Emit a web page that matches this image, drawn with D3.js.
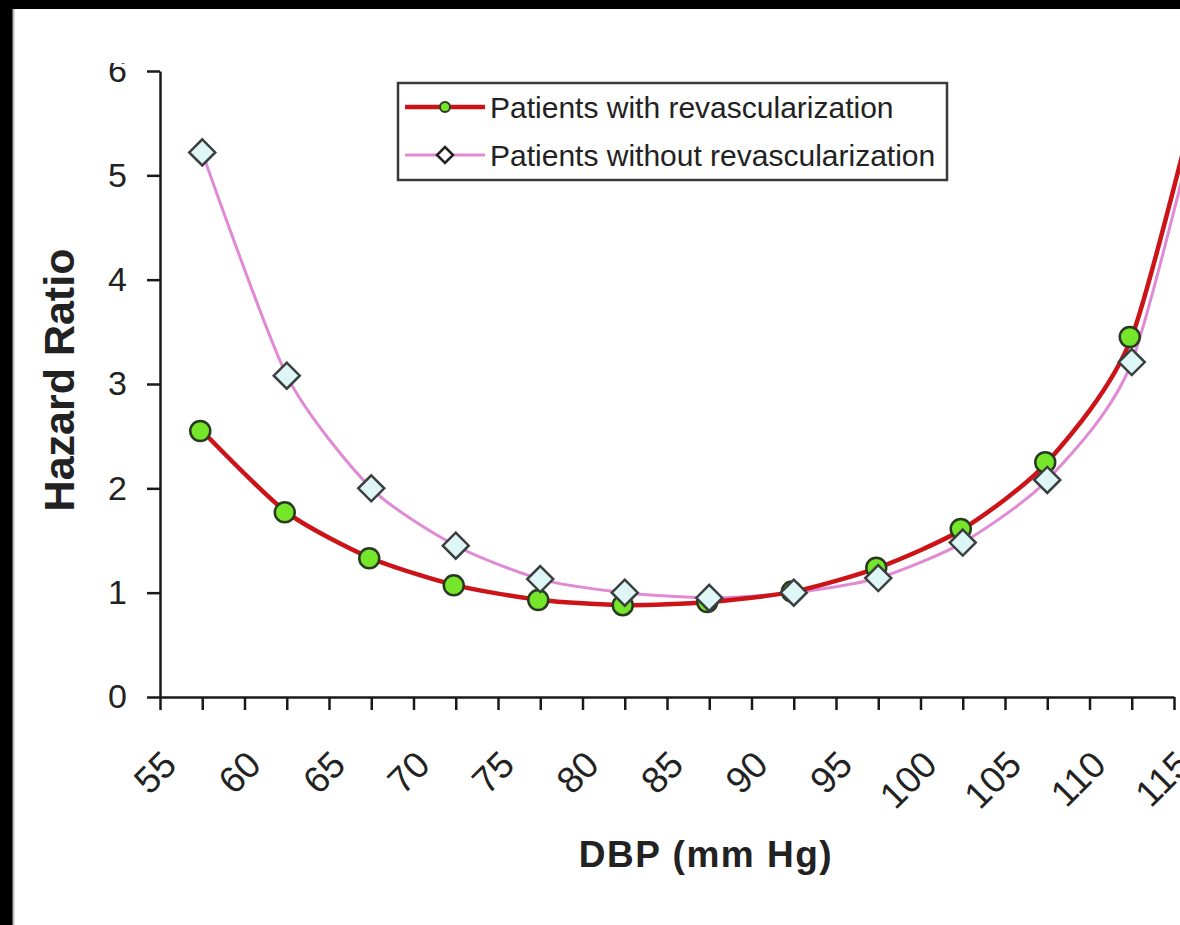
<!DOCTYPE html>
<html>
<head>
<meta charset="utf-8">
<script src="https://cdn.jsdelivr.net/npm/d3@7"></script>
<style>
  html, body { margin: 0; padding: 0; background: #000; }
  svg { display: block; }
</style>
</head>
<body>
<div id="chart"></div>
<script>
// DBP category midpoints (mm Hg), last one sits past the right edge
var dbp = [57.5, 62.5, 67.5, 72.5, 77.5, 82.5, 87.5, 92.5, 97.5, 102.5, 107.5, 112.5, 117.5];
var withRevasc = [2.55, 1.77, 1.33, 1.07, 0.93, 0.88, 0.91, 1.01, 1.24, 1.61, 2.25, 3.45, 6.5];
var withoutRevasc = [5.22, 3.08, 2.0, 1.45, 1.13, 1.0, 0.95, 1.0, 1.14, 1.48, 2.08, 3.21, 6.3];
var xTickLabels = [55, 60, 65, 70, 75, 80, 85, 90, 95, 100, 105, 110, 115];
var yTickLabels = [0, 1, 2, 3, 4, 5, 6];
var seriesNames = ["Patients with revascularization", "Patients without revascularization"];

var width = 1180;
var height = 925;
var margin = {left: 160, right: 6, top: 71, bottom: 228};

var svg = d3.select("#chart").append("svg")
	.attr("width", width)
	.attr("height", height)
	.style("font-family", "'Liberation Sans', Arial, sans-serif");

svg.append("rect").attr("width", width).attr("height", height).attr("fill", "#000");
svg.append("rect")
	.attr("x", 13).attr("y", 9)
	.attr("width", width - 13).attr("height", height - 9)
	.attr("fill", "#fff");
svg.append("line")
	.attr("x1", 13.5).attr("x2", 13.5).attr("y1", 9).attr("y2", height)
	.attr("stroke", "#bbb").attr("stroke-width", 2);

var x_scale = d3.scaleLinear()
	.domain([55, 115])
	.range([margin.left, width - margin.right]);

var y_scale = d3.scaleLinear()
	.domain([0, 6])
	.range([height - margin.bottom, margin.top]);

// minor ticks every 2.5, labels only on the multiples of 5
var xTickValues = [];
for(var i = 0; i < xTickLabels.length; i++) {
	xTickValues.push(xTickLabels[i]);
	if(i < xTickLabels.length - 1) {
		xTickValues.push(xTickLabels[i] + 2.5);
	}
}

var svg_xAxis = d3.axisBottom(x_scale)
	.tickValues(xTickValues)
	.tickSize(13)
	.tickSizeOuter(0)
	.tickFormat(function(d) {
		return xTickLabels.indexOf(d) == -1 ? "" : d;
	});

var svg_yAxis = d3.axisLeft(y_scale)
	.tickValues(yTickLabels)
	.tickSize(13)
	.tickSizeOuter(0)
	.tickPadding(20)
	.tickFormat(d3.format("d"));

var x_g = svg.append("g")
	.attr("class", "axis x")
	.attr("transform", "translate(0," + (height - margin.bottom) + ")")
	.call(svg_xAxis);
x_g.selectAll(".tick text")
	.attr("y", 0)
	.attr("dy", 0)
	.attr("text-anchor", "end")
	.attr("transform", "translate(18,70) rotate(-45)")
	.attr("font-family", "'Liberation Sans', Arial, sans-serif")
	.attr("font-size", 37)
	.attr("fill", "#222");

// the top label is cut off in the original
svg.append("clipPath").attr("id", "yclip")
	.append("rect").attr("x", 0).attr("y", 63).attr("width", width).attr("height", height);

var y_g = svg.append("g")
	.attr("class", "axis y")
	.attr("clip-path", "url(#yclip)")
	.append("g")
	.attr("transform", "translate(" + margin.left + ",0)")
	.call(svg_yAxis);
y_g.selectAll(".tick text")
	.attr("font-family", "'Liberation Sans', Arial, sans-serif")
	.attr("font-size", 34)
	.attr("fill", "#222");

svg.selectAll(".axis path, .axis line")
	.attr("stroke", "#1a1a1a")
	.attr("stroke-width", 2.5);

// axis titles
svg.append("text")
	.attr("transform", "translate(74,380) rotate(-90)")
	.attr("text-anchor", "middle")
	.attr("font-size", 43)
	.attr("font-weight", "bold")
	.attr("fill", "#222")
	.text("Hazard Ratio");

svg.append("text")
	.attr("x", 706)
	.attr("y", 867)
	.attr("text-anchor", "middle")
	.attr("font-size", 37)
	.attr("font-weight", "bold")
	.attr("letter-spacing", 1.5)
	.attr("fill", "#222")
	.text("DBP (mm Hg)");

// lines
var line = d3.line()
	.x(function(d) { return x_scale(d[0]); })
	.y(function(d) { return y_scale(d[1]); })
	.curve(d3.curveCardinal.tension(0.3));

var withoutData = dbp.map(function(d, i) { return [d, withoutRevasc[i]]; });
var withData = dbp.map(function(d, i) { return [d, withRevasc[i]]; });

var diamond = function(r) {
	return "M0," + (-r) + "L" + r + ",0L0," + r + "L" + (-r) + ",0Z";
};

svg.append("path")
	.attr("d", line(withoutData))
	.attr("fill", "none")
	.attr("stroke", "#e08ad6")
	.attr("stroke-width", 3);

svg.append("path")
	.attr("d", line(withData))
	.attr("fill", "none")
	.attr("stroke", "#cc1418")
	.attr("stroke-width", 4.5);

svg.selectAll("circle.with")
	.data(withData)
	.enter()
	.append("circle")
	.attr("class", "with")
	.attr("cx", function(d) { return x_scale(d[0]) - 2; })
	.attr("cy", function(d) { return y_scale(d[1]); })
	.attr("r", 10)
	.attr("fill", "#76e62a")
	.attr("stroke", "#2a3a22")
	.attr("stroke-width", 2.5);

svg.selectAll("path.without")
	.data(withoutData)
	.enter()
	.append("path")
	.attr("class", "without")
	.attr("transform", function(d) {
		return "translate(" + x_scale(d[0]) + "," + y_scale(d[1]) + ")";
	})
	.attr("d", diamond(13))
	.attr("fill", "#def6f6")
	.attr("stroke", "#3a3f40")
	.attr("stroke-width", 2.5);

// legend
var legend = svg.append("g").attr("class", "legend");
legend.append("rect")
	.attr("x", 398).attr("y", 83)
	.attr("width", 549).attr("height", 97)
	.attr("fill", "#fff")
	.attr("stroke", "#3a3a3a")
	.attr("stroke-width", 2.5);

var legendColors = ["#cc1418", "#e08ad6"];
var legendWidths = [4.5, 3];
for(var i = 0; i < seriesNames.length; i++) {
	var ly = 107 + i * 48;
	legend.append("line")
		.attr("x1", 405).attr("x2", 485)
		.attr("y1", ly).attr("y2", ly)
		.attr("stroke", legendColors[i])
		.attr("stroke-width", legendWidths[i]);
	if(i == 0) {
		legend.append("circle")
			.attr("cx", 445).attr("cy", ly).attr("r", 5)
			.attr("fill", "#76e62a").attr("stroke", "#2a3a22").attr("stroke-width", 2);
	} else {
		legend.append("path")
			.attr("transform", "translate(445," + ly + ")")
			.attr("d", diamond(8))
			.attr("fill", "#fff").attr("stroke", "#222").attr("stroke-width", 2.5);
	}
	legend.append("text")
		.attr("x", 490)
		.attr("y", ly + 11)
		.attr("font-size", 30)
		.attr("fill", "#222")
		.text(seriesNames[i]);
}
</script>
</body>
</html>
